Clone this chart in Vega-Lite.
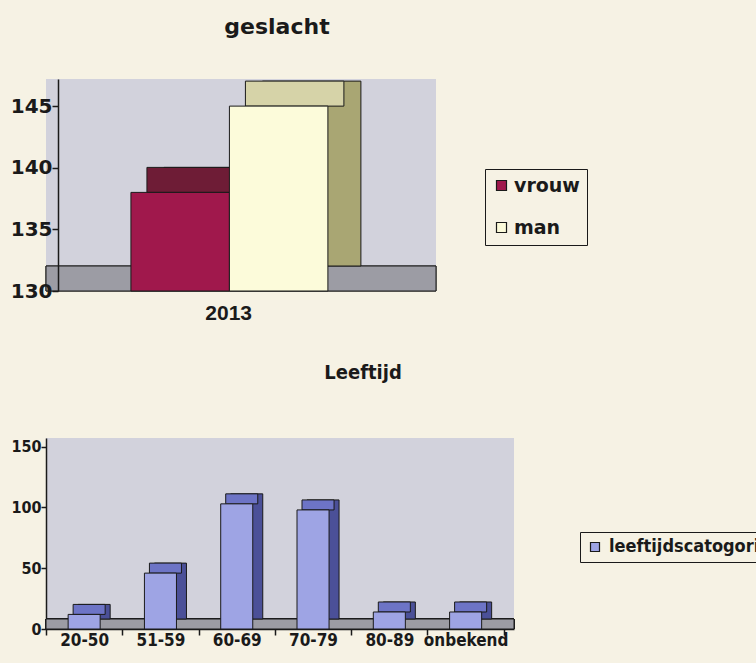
{
  "$schema": "https://vega.github.io/schema/vega-lite/v6.json",
  "background": "#f6f2e4",
  "padding": {"left": 10, "top": 16, "right": 0, "bottom": 20},
  "config": {
    "view": {"stroke": null, "fill": "#d2d2dc"},
    "axis": {"grid": false, "domainColor": "#1a1a1a", "domainWidth": 1.5, "tickColor": "#1a1a1a", "tickWidth": 1.5, "labelColor": "#1a1a1a", "labelFontWeight": "bold", "title": null},
    "legend": {"labelColor": "#1a1a1a", "labelFontWeight": "bold", "strokeColor": "#1a1a1a", "symbolType": "square", "symbolStrokeColor": "#1a1a1a", "symbolStrokeWidth": 1.2}
  },
  "spacing": 40,
  "vconcat": [
    {
      "width": 390,
      "height": 212,
      "title": {"text": "geslacht", "font": "DejaVu Sans", "fontSize": 22, "fontWeight": "bold", "color": "#1a1a1a", "dx": 36, "offset": 40},
      "data": {"values": [
        {"jaar": "2013", "geslacht": "vrouw", "aantal": 138},
        {"jaar": "2013", "geslacht": "man", "aantal": 145}
      ]},
      "resolve": {"scale": {"color": "independent"}},
      "layer": [
        {
          "mark": {"type": "rect", "color": "#9c9ca4", "stroke": "#1a1a1a", "strokeWidth": 1, "yOffset": -25},
          "encoding": {
            "y": {"datum": 130, "type": "quantitative", "scale": {"domain": [130, 147.2], "zero": false, "nice": false}},
            "y2": {"datum": 130}
          }
        },
        {
          "mark": {"type": "bar", "stroke": "#1a1a1a", "strokeWidth": 1, "xOffset": 33, "yOffset": -25, "y2Offset": -25},
          "encoding": {
            "x": {"field": "geslacht", "type": "nominal", "sort": ["vrouw", "man"], "scale": {"paddingInner": 0, "paddingOuter": 0.98, "align": 0.44}},
            "y": {"field": "aantal", "type": "quantitative"},
            "y2": {"datum": 130},
            "color": {"field": "geslacht", "type": "nominal", "scale": {"domain": ["vrouw", "man"], "range": ["#55122b", "#a9a673"]}, "legend": null}
          }
        },
        {
          "mark": {"type": "bar", "stroke": "#1a1a1a", "strokeWidth": 1, "xOffset": 16, "yOffset": -25},
          "encoding": {
            "x": {"field": "geslacht", "type": "nominal", "sort": ["vrouw", "man"]},
            "y": {"field": "aantal", "type": "quantitative"},
            "y2": {"field": "aantal"},
            "color": {"field": "geslacht", "type": "nominal", "scale": {"domain": ["vrouw", "man"], "range": ["#6e1c36", "#d6d3a8"]}, "legend": null}
          }
        },
        {
          "mark": {"type": "bar", "stroke": "#1a1a1a", "strokeWidth": 1},
          "encoding": {
            "x": {"field": "geslacht", "type": "nominal", "sort": ["vrouw", "man"], "axis": {"labelAngle": 0, "labelAlign": "center", "labelFont": "Liberation Sans", "labelFontSize": 21, "ticks": false, "domain": false, "labelPadding": 22, "labelExpr": "datum.value == 'man' ? '2013' : ''", "labelOffset": -50}},
            "y": {"field": "aantal", "type": "quantitative", "axis": {"values": [130, 135, 140, 145], "offset": -12, "zindex": 1, "labelFont": "DejaVu Sans", "labelFontSize": 20, "tickSize": 6, "labelPadding": 0}},
            "y2": {"datum": 130},
            "color": {"field": "geslacht", "type": "nominal", "scale": {"domain": ["vrouw", "man"], "range": ["#a0184c", "#fcfbda"]},
              "legend": {"title": null, "orient": "none", "legendX": 439, "legendY": 90, "symbolSize": 100, "labelFont": "DejaVu Sans", "labelFontSize": 19, "padding": 7, "rowPadding": 22, "labelOffset": 3}}
          }
        }
      ]
    },
    {
      "width": 468,
      "height": 191,
      "title": {"text": "Leeftijd", "font": "DejaVu Sans Condensed", "fontSize": 20, "fontWeight": "bold", "color": "#1a1a1a", "dx": 83, "offset": 55},
      "data": {"values": [
        {"leeftijd": "20-50", "aantal": 12, "reeks": "leeftijdscatogorie"},
        {"leeftijd": "51-59", "aantal": 46, "reeks": "leeftijdscatogorie"},
        {"leeftijd": "60-69", "aantal": 103, "reeks": "leeftijdscatogorie"},
        {"leeftijd": "70-79", "aantal": 98, "reeks": "leeftijdscatogorie"},
        {"leeftijd": "80-89", "aantal": 14, "reeks": "leeftijdscatogorie"},
        {"leeftijd": "onbekend", "aantal": 14, "reeks": "leeftijdscatogorie"}
      ]},
      "resolve": {"scale": {"color": "independent"}},
      "layer": [
        {
          "mark": {"type": "rect", "color": "#9c9ca4", "stroke": "#1a1a1a", "strokeWidth": 1, "yOffset": -10},
          "encoding": {
            "y": {"datum": 0, "type": "quantitative", "scale": {"domain": [0, 157.2], "nice": false}},
            "y2": {"datum": 0}
          }
        },
        {
          "mark": {"type": "bar", "stroke": "#1a1a1a", "strokeWidth": 1, "width": {"band": 0.42}, "xOffset": 10, "yOffset": -10, "y2Offset": -10},
          "encoding": {
            "x": {"field": "leeftijd", "type": "nominal", "sort": null, "scale": {"paddingInner": 0, "paddingOuter": 0.067, "align": 0}},
            "y": {"field": "aantal", "type": "quantitative"},
            "y2": {"datum": 0},
            "color": {"field": "reeks", "type": "nominal", "scale": {"range": ["#4b5098"]}, "legend": null}
          }
        },
        {
          "mark": {"type": "bar", "stroke": "#1a1a1a", "strokeWidth": 1, "width": {"band": 0.42}, "xOffset": 5, "yOffset": -10},
          "encoding": {
            "x": {"field": "leeftijd", "type": "nominal", "sort": null},
            "y": {"field": "aantal", "type": "quantitative"},
            "y2": {"field": "aantal"},
            "color": {"field": "reeks", "type": "nominal", "scale": {"range": ["#6d74c6"]}, "legend": null}
          }
        },
        {
          "mark": {"type": "bar", "stroke": "#1a1a1a", "strokeWidth": 1, "width": {"band": 0.42}},
          "encoding": {
            "x": {"field": "leeftijd", "type": "nominal", "sort": null, "axis": {"labelAngle": 0, "labelAlign": "center", "labelFont": "DejaVu Sans Condensed", "labelFontSize": 17, "tickBand": "extent", "tickSize": 6, "labelPadding": 5}},
            "y": {"field": "aantal", "type": "quantitative", "axis": {"values": [0, 50, 100, 150], "labelFont": "DejaVu Sans Condensed", "labelFontSize": 16, "tickSize": 5, "labelPadding": 0}},
            "y2": {"datum": 0},
            "color": {"field": "reeks", "type": "nominal", "scale": {"range": ["#9ea4e4"]},
              "legend": {"title": null, "orient": "none", "legendX": 534, "legendY": 94, "symbolSize": 81, "labelFont": "DejaVu Sans Condensed", "labelFontSize": 18, "labelLimit": 0, "padding": 6, "labelOffset": 5}}
          }
        }
      ]
    }
  ]
}
